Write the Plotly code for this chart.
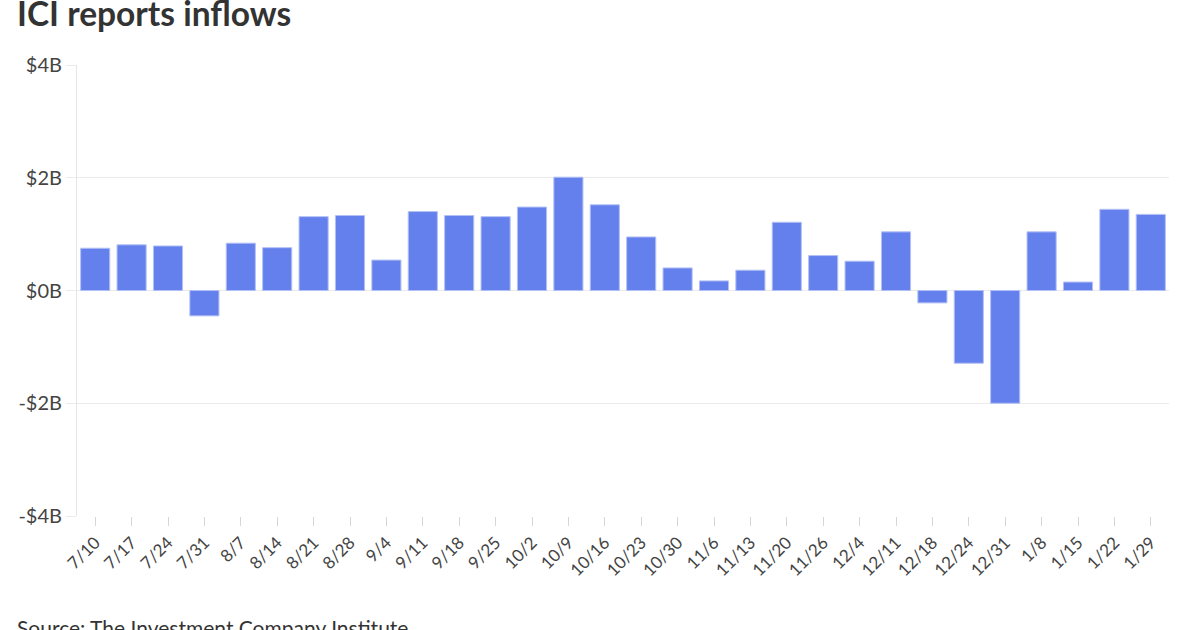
import plotly.graph_objects as go

weeks = ["7/10", "7/17", "7/24", "7/31", "8/7", "8/14", "8/21", "8/28", "9/4", "9/11",
         "9/18", "9/25", "10/2", "10/9", "10/16", "10/23", "10/30", "11/6", "11/13", "11/20",
         "11/26", "12/4", "12/11", "12/18", "12/24", "12/31", "1/8", "1/15", "1/22", "1/29"]
inflows_b = [0.75, 0.81, 0.79, -0.45, 0.84, 0.76, 1.31, 1.33, 0.54, 1.40,
             1.33, 1.31, 1.48, 2.01, 1.52, 0.95, 0.40, 0.17, 0.36, 1.21,
             0.62, 0.52, 1.04, -0.22, -1.29, -2.00, 1.04, 0.15, 1.44, 1.35]
y_ticks = [-4, -2, 0, 2, 4]
y_tick_labels = ["-$4B", "-$2B", "$0B", "$2B", "$4B"]

W, H = 1200, 630
L, R, T, B = 77, 31, 65, 114
pw, ph = W - L - R, H - T - B

fig = go.Figure(go.Bar(
    x=weeks, y=inflows_b,
    marker=dict(color="#6480EC", line=dict(color="#B3C0F5", width=1)),
))

fig.update_layout(
    width=W, height=H,
    margin=dict(l=L, r=R, t=T, b=B, autoexpand=False),
    paper_bgcolor="white", plot_bgcolor="white",
    bargap=0.2,
    showlegend=False,
    font=dict(family="Lato", color="#444444"),
    title=dict(text="<b>ICI reports inflows</b>", x=17 / W, xanchor="left",
               xref="container", yref="container", y=1 - 14 / H, yanchor="middle",
               font=dict(size=33.5, color="#333333", family="Lato")),
    annotations=[dict(text="Source: The Investment Company Institute",
                      xref="paper", yref="paper", x=(15 - L) / pw, xanchor="left",
                      y=(H - B - 627) / ph, yanchor="middle", showarrow=False,
                      font=dict(size=21, color="#333333", family="Lato"))],
)
fig.update_xaxes(
    type="category", tickangle=-45, tickfont=dict(size=17, color="#444444"),
    ticks="outside", ticklen=9, tickcolor="#d6d6d6", showgrid=False,
    showline=False, zeroline=False,
)
fig.update_yaxes(
    range=[-4, 4], tickvals=y_ticks, ticktext=y_tick_labels,
    tickfont=dict(size=20, color="#444444"),
    showgrid=True, gridcolor="#ebebeb", gridwidth=1,
    ticks="outside", ticklen=10, tickcolor="#ebebeb",
    showline=True, linecolor="#e6e6e6", linewidth=1,
    zeroline=True, zerolinecolor="#ebebeb", zerolinewidth=1,
)

fig.write_html("out.html", config={"displayModeBar": False},
               post_script="document.body.style.margin='0';")
